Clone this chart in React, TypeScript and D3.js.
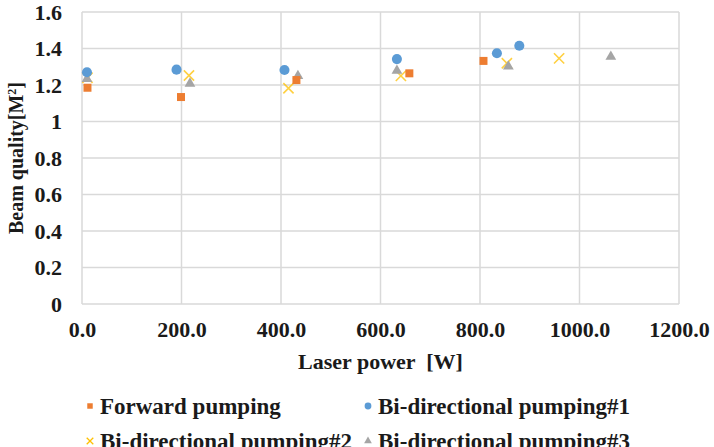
import { useEffect, useRef } from 'react';
import * as d3 from 'd3';

// laser power [W] and beam quality M² for each pumping scheme
const forwardPower = [11, 199, 431, 658, 807];
const forwardM2 = [1.185, 1.134, 1.227, 1.264, 1.332];

const bi1Power = [10, 190, 407, 633, 834, 879];
const bi1M2 = [1.27, 1.284, 1.282, 1.342, 1.374, 1.415];

const bi2Power = [11, 215, 415, 641, 854, 959];
const bi2M2 = [1.24, 1.252, 1.182, 1.25, 1.319, 1.346];

const bi3Power = [10, 217, 434, 633, 857, 1063];
const bi3M2 = [1.234, 1.208, 1.25, 1.278, 1.302, 1.355];

const xTicks = [0, 200, 400, 600, 800, 1000, 1200];
const yTicks = [0, 0.2, 0.4, 0.6, 0.8, 1, 1.2, 1.4, 1.6];

const seriesNames = [
  'Forward pumping',
  'Bi-directional pumping#1',
  'Bi-directional pumping#2',
  'Bi-directional pumping#3',
];

function App() {
  const svgRef = useRef<SVGSVGElement>(null);

  useEffect(() => {
    if (!svgRef.current) return;
    const svg = d3.select(svgRef.current);
    svg.selectAll('*').remove();

    const width = 714;
    const height = 447;
    const margin = { left: 82, right: 35, top: 12, bottom: 143 };
    const font = '"Liberation Serif", "Times New Roman", serif';

    const x = d3.scaleLinear().domain([0, 1200]).range([margin.left, width - margin.right]);
    const y = d3.scaleLinear().domain([0, 1.6]).range([height - margin.bottom, margin.top]);

    const grid = '#d9d9d9';

    // gridlines
    svg.append('g')
      .selectAll('line')
      .data(yTicks)
      .join('line')
      .attr('x1', x(0)).attr('x2', x(1200))
      .attr('y1', (d) => y(d)).attr('y2', (d) => y(d))
      .attr('stroke', grid).attr('stroke-width', 1.5);

    svg.append('g')
      .selectAll('line')
      .data(xTicks)
      .join('line')
      .attr('x1', (d) => x(d)).attr('x2', (d) => x(d))
      .attr('y1', y(0)).attr('y2', y(1.6))
      .attr('stroke', grid).attr('stroke-width', 1.5);

    // axes (labels only)
    const xAxis = svg.append('g')
      .attr('transform', `translate(0,${y(0)})`)
      .call(d3.axisBottom(x).tickValues(xTicks).tickFormat((d) => d3.format('.1f')(d as number)).tickSize(0).tickPadding(17));
    xAxis.select('.domain').remove();

    const yAxis = svg.append('g')
      .attr('transform', `translate(${x(0)},0)`)
      .call(d3.axisLeft(y).tickValues(yTicks).tickFormat((d) => String(+(d as number).toFixed(1))).tickSize(0).tickPadding(20));
    yAxis.select('.domain').remove();

    svg.selectAll('.tick text')
      .attr('font-family', font)
      .attr('font-weight', 'bold')
      .attr('font-size', 22)
      .attr('fill', '#1a1a1a');

    // axis titles
    svg.append('text')
      .attr('x', (x(0) + x(1200)) / 2)
      .attr('y', 369)
      .attr('text-anchor', 'middle')
      .attr('font-family', font)
      .attr('font-weight', 'bold')
      .attr('font-size', 22)
      .attr('fill', '#1a1a1a')
      .style('white-space', 'pre')
      .text('Laser power  [W]');

    const yTitle = svg.append('text')
      .attr('transform', `translate(23,${(y(0) + y(1.6)) / 2}) rotate(-90)`)
      .attr('text-anchor', 'middle')
      .attr('font-family', font)
      .attr('font-weight', 'bold')
      .attr('font-size', 20)
      .attr('fill', '#1a1a1a');
    yTitle.append('tspan').text('Beam quality[M');
    yTitle.append('tspan').attr('baseline-shift', 'super').attr('font-size', 12).text('2');
    yTitle.append('tspan').text(']');

    // markers
    const squareSym = d3.symbol().type(d3.symbolSquare).size(64);
    const circleSym = d3.symbol().type(d3.symbolCircle).size(80);
    const crossSym = d3.symbol().type(d3.symbolX).size(70);
    const triSym = d3.symbol().type(d3.symbolTriangle).size(50);

    const series = [
      { px: forwardPower, py: forwardM2, sym: squareSym, color: '#ED7D31', stroke: false },
      { px: bi1Power, py: bi1M2, sym: circleSym, color: '#5B9BD5', stroke: false },
      { px: bi2Power, py: bi2M2, sym: crossSym, color: '#FFC000', stroke: true },
      { px: bi3Power, py: bi3M2, sym: triSym, color: '#A5A5A5', stroke: false },
    ];

    // draw order: x first so the others sit on top like the reference
    const order = [2, 3, 0, 1];
    order.forEach((si) => {
      const s = series[si];
      svg.append('g')
        .selectAll('path')
        .data(s.px.map((p, i) => [p, s.py[i]]))
        .join('path')
        .attr('transform', (d) => `translate(${x(d[0])},${y(d[1])})`)
        .attr('d', s.sym() as string)
        .attr('fill', s.stroke ? 'none' : s.color)
        .attr('stroke', s.stroke ? s.color : 'none')
        .attr('stroke-width', s.stroke ? 1.6 : 0)
        .attr('opacity', s.stroke ? 0.75 : 1);
    });

    // legend
    const legendPos = [
      { lx: 90, ly: 406 },
      { lx: 368, ly: 406 },
      { lx: 90, ly: 441 },
      { lx: 368, ly: 441 },
    ];
    const legendSym = [
      d3.symbol().type(d3.symbolSquare).size(30),
      d3.symbol().type(d3.symbolCircle).size(36),
      d3.symbol().type(d3.symbolX).size(30),
      d3.symbol().type(d3.symbolTriangle).size(26),
    ];
    seriesNames.forEach((name, i) => {
      const s = series[i];
      const g = svg.append('g').attr('transform', `translate(${legendPos[i].lx},${legendPos[i].ly})`);
      g.append('path')
        .attr('d', legendSym[i]() as string)
        .attr('fill', s.stroke ? 'none' : s.color)
        .attr('stroke', s.stroke ? s.color : 'none')
        .attr('stroke-width', s.stroke ? 1.3 : 0);
      g.append('text')
        .attr('x', 10)
        .attr('dy', '0.35em')
        .attr('font-family', font)
        .attr('font-weight', 'bold')
        .attr('font-size', 23)
        .attr('fill', '#1a1a1a')
        .text(name);
    });

    return () => {
      d3.select(svgRef.current).selectAll('*').remove();
    };
  }, []);

  return (
    <svg
      ref={svgRef}
      width={714}
      height={447}
      style={{ position: 'absolute', left: 0, top: 0, background: '#fff' }}
    />
  );
}

export default App;
